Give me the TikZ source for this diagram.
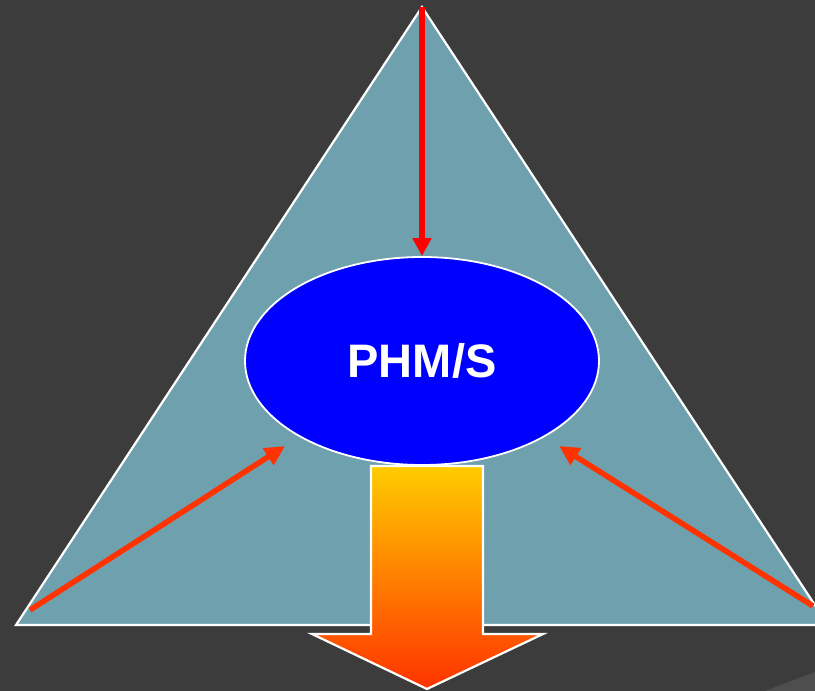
\documentclass[tikz,border=0pt]{standalone}
\usepackage{fontspec}
\setmainfont{Liberation Sans}
\usetikzlibrary{arrows.meta, shapes.geometric}

\definecolor{slide}{HTML}{3C3C3C}
\definecolor{slideband}{HTML}{4E4E4E}
\definecolor{teal}{HTML}{6FA0AE}
\definecolor{pure}{HTML}{0000FF}
\definecolor{hotred}{HTML}{FF0000}
\definecolor{flame}{HTML}{FF3300}
\definecolor{amber}{HTML}{FF9900}
\definecolor{gold}{HTML}{FFCC00}

\begin{document}
\begin{tikzpicture}[
    x=1pt, y=-1pt,
    % central goal
    goal/.style={
        draw=white, line width=1.8pt, fill=pure, ellipse,
        minimum width=354pt, minimum height=208pt,
        font=\fontsize{47}{47}\selectfont\bfseries, text=white
    },
    % inputs
    feed/.style={draw=hotred, line width=6pt, -{Triangle[length=18pt,width=18pt]}},
    side/.style={draw=flame, line width=5.5pt, -{Triangle[length=20pt,width=19pt]}}
]

% ---- BACKGROUND ----
\fill[slide] (0,0) rectangle (815,691);
\fill[slideband] (765,691) -- (815,672) -- (815,691) -- cycle;
\useasboundingbox (0,0) rectangle (815,691);

% ---- TRIANGLE ----
\coordinate (apex) at (422,7);
\coordinate (bl)   at (16,625);
\coordinate (br)   at (828,625);
\draw[white, line width=2.2pt, fill=teal] (apex) -- (bl) -- (br) -- cycle;

% ---- CENTRE ----
\node[goal] (phms) at (422,361) {PHM/S};

% ---- OUTPUT ARROW ----
\shade[top color=gold, middle color=amber, bottom color=flame, draw=white, line width=2.2pt]
    (371,466) -- (483,466) -- (483,634) -- (543,634) -- (427,689)
    -- (312,634) -- (371,634) -- cycle;

% ---- INPUT ARROWS ----
\coordinate (lsrc) at (30,610);
\coordinate (ltip) at (285,446);
\coordinate (rsrc) at (813,606);
\coordinate (rtip) at (559,446);

\draw[feed] (apex) -- (phms.north);
\draw[side] (lsrc) -- (ltip);
\draw[side] (rsrc) -- (rtip);

\end{tikzpicture}
\end{document}
